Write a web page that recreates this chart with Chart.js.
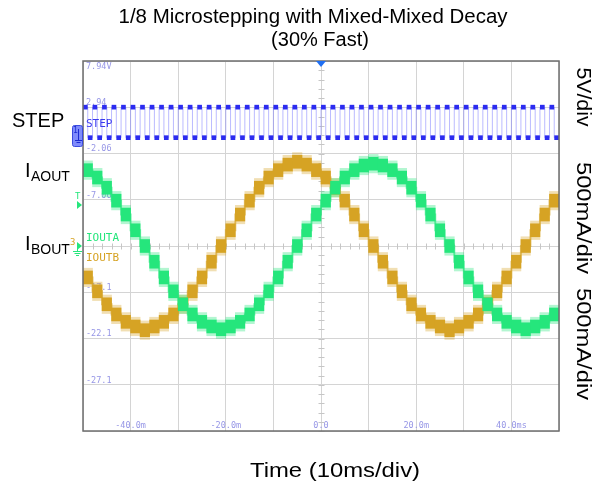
<!DOCTYPE html>
<html>
<head>
<meta charset="utf-8">
<title>1/8 Microstepping with Mixed-Mixed Decay</title>
<script src="https://cdn.jsdelivr.net/npm/chart.js@4.4.1/dist/chart.umd.min.js"></script>
<style>
  html, body { margin: 0; padding: 0; background: #fff; }
  #wrap { position: relative; width: 601px; height: 489px; }
</style>
</head>
<body>
<div id="wrap"><canvas id="scopeChart"></canvas></div>
<script>
// time axis, ms (10 ms/div)
const xTickValues = [-40, -20, 0, 20, 40];
const xTickLabels = ["-40.0m", "-20.0m", "0.0", "20.0m", "40.0ms"];

// graticule readout of the STEP channel (5 V/div)
const yTickValues = [7.94, 2.94, -2.06, -7.06, -12.06, -17.06, -22.06, -27.06, -32.06];
const yTickLabels = ["7.94V", "2.94", "-2.06", "-7.06", "", "-17.1", "-22.1", "-27.1", ""];

// STEP input: sample times of the high and low dots (ms) and the two levels (V)
const stepHighTimes = [-49.5, -47.5, -45.5, -43.5, -41.5, -39.5, -37.5, -35.5, -33.5, -31.5,
  -29.5, -27.5, -25.5, -23.5, -21.5, -19.5, -17.5, -15.5, -13.5, -11.5,
  -9.5, -7.5, -5.5, -3.5, -1.5, 0.5, 2.5, 4.5, 6.5, 8.5,
  10.5, 12.5, 14.5, 16.5, 18.5, 20.5, 22.5, 24.5, 26.5, 28.5,
  30.5, 32.5, 34.5, 36.5, 38.5, 40.5, 42.5, 44.5, 46.5, 48.5];
const stepLowTimes = [-48.5, -46.5, -44.5, -42.5, -40.5, -38.5, -36.5, -34.5, -32.5, -30.5,
  -28.5, -26.5, -24.5, -22.5, -20.5, -18.5, -16.5, -14.5, -12.5, -10.5,
  -8.5, -6.5, -4.5, -2.5, -0.5, 1.5, 3.5, 5.5, 7.5, 9.5,
  11.5, 13.5, 15.5, 17.5, 19.5, 21.5, 23.5, 25.5, 27.5, 29.5,
  31.5, 33.5, 35.5, 37.5, 39.5, 41.5, 43.5, 45.5, 47.5, 49.5];
const stepHigh = 2.95;
const stepLow = -0.35;

// winding currents, one level per microstep (centre time in ms, current in A, 500 mA/div)
const microstepTimes = [-49, -47, -45, -43, -41, -39, -37, -35, -33, -31,
  -29, -27, -25, -23, -21, -19, -17, -15, -13, -11,
  -9, -7, -5, -3, -1, 1, 3, 5, 7, 9,
  11, 13, 15, 17, 19, 21, 23, 25, 27, 29,
  31, 33, 35, 37, 39, 41, 43, 45, 47, 49];
const ioutA = [0.82, 0.74, 0.63, 0.49, 0.34, 0.17, 0, -0.17, -0.34, -0.49,
  -0.63, -0.74, -0.82, -0.87, -0.9, -0.87, -0.82, -0.74, -0.63, -0.49,
  -0.34, -0.17, 0, 0.17, 0.34, 0.49, 0.63, 0.74, 0.82, 0.87,
  0.89, 0.87, 0.82, 0.74, 0.63, 0.49, 0.34, 0.17, 0, -0.17,
  -0.34, -0.49, -0.63, -0.74, -0.82, -0.87, -0.9, -0.87, -0.82, -0.74];
const ioutB = [-0.34, -0.49, -0.63, -0.74, -0.82, -0.87, -0.91, -0.87, -0.82, -0.74,
  -0.63, -0.49, -0.34, -0.17, 0, 0.17, 0.34, 0.49, 0.63, 0.74,
  0.82, 0.88, 0.91, 0.88, 0.82, 0.74, 0.63, 0.49, 0.34, 0.17,
  0, -0.17, -0.34, -0.49, -0.63, -0.74, -0.82, -0.87, -0.91, -0.87,
  -0.82, -0.74, -0.63, -0.49, -0.34, -0.17, 0, 0.17, 0.34, 0.49];

const GREEN = "#25e67c";
const GOLD = "#d6a324";
const SCOPE_TEXT = "#9696e6";
const MONO = "'DejaVu Sans Mono', monospace";
const SANS = "'Liberation Sans', Arial, sans-serif";

const stepPoints = stepHighTimes.map(t => ({ x: t, y: stepHigh }))
  .concat(stepLowTimes.map(t => ({ x: t, y: stepLow })))
  .sort((a, b) => a.x - b.x);

function band(values, half) {
  return microstepTimes.map((t, i) => ({ x: t, y: [values[i] - half, values[i] + half] }));
}

function levels(values) {
  return microstepTimes.map((t, i) => ({ x: t, y: values[i] }));
}

// text squeezed/stretched along its own direction to a given length
function fitText(ctx, text, x, y, length, angle) {
  const natural = ctx.measureText(text).width;
  ctx.save();
  ctx.translate(x, y);
  if (angle) ctx.rotate(angle);
  ctx.scale(length / natural, 1);
  ctx.fillText(text, 0, 0);
  ctx.restore();
}

/*
  scope decorations: minor ticks, frame, channel markers, captions
*/
const scopeOverlay = {
  id: "scopeOverlay",

  beforeDatasetsDraw(chart) {
    const { ctx, scales: { x, y } } = chart;
    const cx = Math.round(x.getPixelForValue(0)) + 0.5;
    const cy = Math.round(y.getPixelForValue((y.min + y.max) / 2)) + 0.5;
    ctx.save();
    ctx.strokeStyle = "#c6c6c6";
    ctx.lineWidth = 1;
    ctx.beginPath();
    for (let v = x.min; v <= x.max; v += 2) {
      const px = Math.round(x.getPixelForValue(v)) + 0.5;
      ctx.moveTo(px, cy - 3);
      ctx.lineTo(px, cy + 3);
    }
    for (let v = y.min; v <= y.max; v += 1) {
      const py = Math.round(y.getPixelForValue(v)) + 0.5;
      ctx.moveTo(cx - 3, py);
      ctx.lineTo(cx + 3, py);
    }
    ctx.stroke();
    ctx.restore();
  },

  afterDatasetsDraw(chart) {
    const { ctx, chartArea: a, scales: { x, y } } = chart;
    ctx.save();

    // frame
    ctx.strokeStyle = "#6e6e6e";
    ctx.lineWidth = 1.5;
    ctx.strokeRect(a.left, a.top, a.right - a.left, a.bottom - a.top);

    // trigger position
    const tx = x.getPixelForValue(0);
    ctx.fillStyle = "#1f6ff2";
    ctx.beginPath();
    ctx.moveTo(tx - 5, a.top);
    ctx.lineTo(tx + 5, a.top);
    ctx.lineTo(tx, a.top + 6);
    ctx.closePath();
    ctx.fill();

    // channel names inside the screen
    ctx.font = "11px " + MONO;
    ctx.textAlign = "left";
    ctx.textBaseline = "alphabetic";
    ctx.fillStyle = "#3a3aef";
    ctx.fillText("STEP", a.left + 3, 127);
    ctx.fillStyle = GREEN;
    ctx.fillText("IOUTA", a.left + 3, 241);
    ctx.fillStyle = GOLD;
    ctx.fillText("IOUTB", a.left + 3, 261);

    // CH1 ground marker
    ctx.fillStyle = "rgba(95,110,250,0.8)";
    ctx.strokeStyle = "#3a4ae0";
    ctx.lineWidth = 1;
    ctx.beginPath();
    ctx.roundRect(72.5, 125.5, 10, 21, 2);
    ctx.fill();
    ctx.stroke();
    ctx.font = "8px " + MONO;
    ctx.fillStyle = "#1c2bd0";
    ctx.fillText("1", 73, 133);
    ctx.strokeStyle = "#1c2bd0";
    ctx.beginPath();
    ctx.moveTo(78.5, 129); ctx.lineTo(78.5, 140);
    ctx.moveTo(75, 140.5); ctx.lineTo(82, 140.5);
    ctx.moveTo(76.5, 142.5); ctx.lineTo(80.5, 142.5);
    ctx.stroke();

    // trigger level
    ctx.font = "9px " + MONO;
    ctx.fillStyle = GREEN;
    ctx.fillText("T", 75, 199);
    ctx.beginPath();
    ctx.moveTo(77, 201); ctx.lineTo(82, 205); ctx.lineTo(77, 209);
    ctx.closePath();
    ctx.fill();

    // CH3 / CH4 ground markers
    const gy = y.getPixelForValue((y.min + y.max) / 2);
    ctx.fillStyle = GOLD;
    ctx.fillText("3", 70, gy - 1);
    ctx.fillStyle = GREEN;
    ctx.beginPath();
    ctx.moveTo(77, gy - 4); ctx.lineTo(82, gy); ctx.lineTo(77, gy + 4);
    ctx.closePath();
    ctx.fill();
    ctx.strokeStyle = GREEN;
    ctx.beginPath();
    ctx.moveTo(77.5, gy); ctx.lineTo(77.5, gy + 5);
    ctx.moveTo(73, gy + 5.5); ctx.lineTo(82, gy + 5.5);
    ctx.moveTo(74.5, gy + 7.5); ctx.lineTo(80.5, gy + 7.5);
    ctx.moveTo(76, gy + 9.5); ctx.lineTo(79, gy + 9.5);
    ctx.stroke();

    ctx.restore();
  },

  afterDraw(chart) {
    const { ctx } = chart;
    ctx.save();
    ctx.fillStyle = "#000";
    ctx.textBaseline = "alphabetic";

    // title
    ctx.font = "20px " + SANS;
    ctx.textAlign = "center";
    fitText(ctx, "1/8 Microstepping with Mixed-Mixed Decay", 313, 23, 389);
    ctx.fillText("(30% Fast)", 320, 46);

    // x caption
    fitText(ctx, "Time (10ms/div)", 335, 477, 170);

    // channel names outside the screen
    ctx.textAlign = "left";
    ctx.font = "20px " + SANS;
    ctx.fillText("STEP", 12, 127);
    ctx.fillText("I", 25, 177);
    ctx.fillText("I", 25, 250);
    ctx.font = "14px " + SANS;
    ctx.fillText("AOUT", 31, 181);
    ctx.fillText("BOUT", 31, 254);

    // vertical scales
    ctx.font = "20px " + SANS;
    ctx.textAlign = "center";
    fitText(ctx, "5V/div", 577, 97, 59, Math.PI / 2);
    fitText(ctx, "500mA/div", 577, 218, 112, Math.PI / 2);
    fitText(ctx, "500mA/div", 577, 344, 112, Math.PI / 2);

    ctx.restore();
  }
};

new Chart(document.getElementById("scopeChart"), {
  type: "bar",
  data: {
    datasets: [
      {
        type: "line",
        label: "STEP",
        data: stepPoints,
        yAxisID: "y",
        stepped: "middle",
        borderColor: "rgba(120,120,255,0.5)",
        borderWidth: 1,
        pointStyle: "rect",
        pointRadius: 3.3,
        pointBackgroundColor: "#2b2bf0",
        pointBorderWidth: 0,
        order: 0
      },
      {
        label: "IOUTA",
        data: band(ioutA, 0.07),
        yAxisID: "yI",
        backgroundColor: GREEN,
        order: 1
      },
      {
        type: "line",
        label: "IOUTA edges",
        data: levels(ioutA),
        yAxisID: "yI",
        stepped: "middle",
        borderColor: "rgba(37,230,124,0.6)",
        borderWidth: 2,
        pointRadius: 0,
        order: 2
      },
      {
        label: "IOUTB",
        data: band(ioutB, 0.07),
        yAxisID: "yI",
        backgroundColor: GOLD,
        order: 3
      },
      {
        type: "line",
        label: "IOUTB edges",
        data: levels(ioutB),
        yAxisID: "yI",
        stepped: "middle",
        borderColor: "rgba(214,163,36,0.6)",
        borderWidth: 2,
        pointRadius: 0,
        order: 4
      },
      {
        label: "IOUTA noise",
        data: band(ioutA, 0.1),
        yAxisID: "yI",
        backgroundColor: "rgba(37,230,124,0.35)",
        order: 5
      },
      {
        label: "IOUTB noise",
        data: band(ioutB, 0.1),
        yAxisID: "yI",
        backgroundColor: "rgba(214,163,36,0.35)",
        order: 6
      }
    ]
  },
  options: {
    responsive: true,
    maintainAspectRatio: false,
    animation: false,
    grouped: false,
    barPercentage: 1,
    categoryPercentage: 1,
    layout: {
      padding: { left: 83, top: 61, right: 42, bottom: 58 }
    },
    plugins: {
      legend: { display: false },
      title: { display: false },
      tooltip: { enabled: false }
    },
    scales: {
      x: {
        type: "linear",
        min: -50,
        max: 50,
        offset: false,
        afterFit: scale => { scale.height = 0; },
        grid: { color: "#d4d4d4", drawTicks: false, offset: false },
        border: { display: false },
        ticks: {
          stepSize: 10,
          autoSkip: false,
          maxRotation: 0,
          mirror: true,
          padding: 0,
          color: SCOPE_TEXT,
          font: { family: MONO, size: 8.5 },
          callback: value => {
            const i = xTickValues.indexOf(value);
            return i < 0 ? "" : xTickLabels[i];
          }
        }
      },
      y: {
        type: "linear",
        min: -32.06,
        max: 7.94,
        afterFit: scale => { scale.width = 0; },
        afterBuildTicks: scale => {
          scale.ticks = yTickValues.map(v => ({ value: v }));
        },
        grid: { color: "#d4d4d4", drawTicks: false },
        border: { display: false },
        ticks: {
          mirror: true,
          padding: 3,
          align: "end",
          color: SCOPE_TEXT,
          font: { family: MONO, size: 8.5 },
          callback: value => {
            const i = yTickValues.indexOf(value);
            if (i < 0) return "";
            // the top readout sits under the frame line
            return i === 0 ? ["", "", yTickLabels[i]] : yTickLabels[i];
          }
        }
      },
      yI: {
        type: "linear",
        min: -2,
        max: 2,
        display: false
      }
    }
  },
  plugins: [scopeOverlay]
});
</script>
</body>
</html>
